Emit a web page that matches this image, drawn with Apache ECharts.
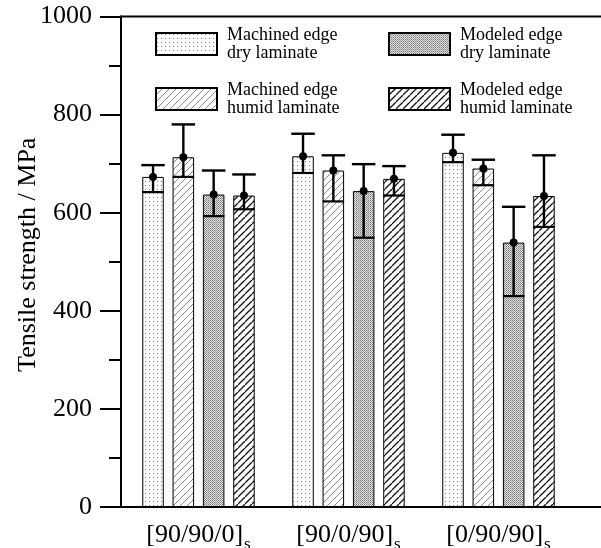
<!DOCTYPE html>
<html>
<head>
<meta charset="utf-8">
<script src="https://cdn.jsdelivr.net/npm/echarts@6/dist/echarts.min.js"></script>
<style>
html,body{margin:0;padding:0;background:#fff;}
#c{width:601px;height:548px;}
</style>
</head>
<body>
<div id="c"></div>
<script>
// ---- data ----
const categories = ['[90/90/0]', '[90/0/90]', '[0/90/90]'];
const seriesNames = ['Machined edge\ndry laminate', 'Machined edge\nhumid laminate', 'Modeled edge\ndry laminate', 'Modeled edge\nhumid laminate'];
const machinedDry = [673, 715, 722];
const machinedDryUpper = [697, 761, 759];
const machinedDryLower = [642, 681, 703];
const machinedHumid = [713, 686, 690];
const machinedHumidUpper = [780, 717, 708];
const machinedHumidLower = [673, 623, 656];
const modeledDry = [637, 644, 539];
const modeledDryUpper = [686, 699, 612];
const modeledDryLower = [593, 549, 430];
const modeledHumid = [635, 669, 634];
const modeledHumidUpper = [678, 695, 717];
const modeledHumidLower = [607, 635, 571];
const yTicks = [0, 200, 400, 600, 800, 1000];

const means = [machinedDry, machinedHumid, modeledDry, modeledHumid];
const uppers = [machinedDryUpper, machinedHumidUpper, modeledDryUpper, modeledHumidUpper];
const lowers = [machinedDryLower, machinedHumidLower, modeledDryLower, modeledHumidLower];

// ---- patterns ----
function makeCanvas(w, h, draw) {
  const cv = document.createElement('canvas');
  cv.width = w; cv.height = h;
  const ctx = cv.getContext('2d');
  ctx.fillStyle = '#fff';
  ctx.fillRect(0, 0, w, h);
  draw(ctx, w, h);
  return cv;
}
const sparseDots = makeCanvas(4, 4, (ctx) => {
  ctx.fillStyle = '#777';
  ctx.fillRect(1, 1, 1, 1);
});
const denseDots = makeCanvas(2, 2, (ctx) => {
  ctx.fillStyle = '#e4e4e4';
  ctx.fillRect(0, 0, 2, 2);
  ctx.fillStyle = '#777';
  ctx.fillRect(0, 0, 1, 1);
  ctx.fillStyle = '#999';
  ctx.fillRect(1, 1, 1, 1);
});
function hatch(size, color, width) {
  return makeCanvas(size, size, (ctx, w, h) => {
    ctx.strokeStyle = color;
    ctx.lineWidth = width;
    ctx.beginPath();
    ctx.moveTo(0, h); ctx.lineTo(w, 0);
    ctx.moveTo(-w, h); ctx.lineTo(0, 0);
    ctx.moveTo(w, 2 * h); ctx.lineTo(2 * w, h);
    ctx.stroke();
  });
}
const lightHatch = hatch(7, '#8a8a8a', 1);
const darkHatch = hatch(7, '#111', 1.3);
const fills = [sparseDots, lightHatch, denseDots, darkHatch];

const serif = 'Liberation Serif';
const barWidth = 21.5;
const gapRatio = 0.41;
const pitch = barWidth * (1 + gapRatio);

const chart = echarts.init(document.getElementById('c'), null, {renderer: 'canvas'});

const series = [];
for (let k = 0; k < 4; k++) {
  series.push({
    name: seriesNames[k],
    type: 'bar',
    barWidth: barWidth,
    barGap: (gapRatio * 100) + '%',
    data: means[k],
    itemStyle: {
      color: {image: fills[k], repeat: 'repeat'},
      borderColor: '#000',
      borderWidth: 1
    },
    emphasis: {disabled: true},
    z: 2
  });
}
for (let k = 0; k < 4; k++) {
  const off = (k - 1.5) * pitch;
  series.push({
    name: 'err' + k,
    type: 'custom',
    z: 5,
    encode: {x: 0, y: [1, 2, 3]},
    data: categories.map((c, i) => [i, means[k][i], uppers[k][i], lowers[k][i]]),
    renderItem: function (params, api) {
      const m = api.coord([api.value(0), api.value(1)]);
      const u = api.coord([api.value(0), api.value(2)]);
      const l = api.coord([api.value(0), api.value(3)]);
      const x = m[0] + off;
      const hw = barWidth / 2;
      return {
        type: 'group',
        children: [
          {type: 'line', shape: {x1: x, y1: u[1], x2: x, y2: l[1]}, style: {stroke: '#000', lineWidth: 2.4}},
          {type: 'line', shape: {x1: x - hw - 1, y1: u[1], x2: x + hw + 1, y2: u[1]}, style: {stroke: '#000', lineWidth: 2.4}},
          {type: 'line', shape: {x1: x - hw, y1: l[1], x2: x + hw, y2: l[1]}, style: {stroke: '#000', lineWidth: 2.2}},
          {type: 'circle', shape: {cx: x, cy: m[1], r: 4}, style: {fill: '#000'}}
        ]
      };
    }
  });
}

const legendText = {fontFamily: serif, fontSize: 18, lineHeight: 18, color: '#000', padding: [0, 0, 0, 5]};

chart.setOption({
  animation: false,
  backgroundColor: '#fff',
  grid: {left: 123.5, right: 27.5, top: 16.5, bottom: 41, containLabel: false, outerBoundsMode: 'none'},
  legend: [
    {
      data: [seriesNames[0], seriesNames[1]],
      left: 150, top: 21, orient: 'vertical',
      itemWidth: 61, itemHeight: 22, itemGap: 19,
      textStyle: legendText, selectedMode: false, icon: 'rect'
    },
    {
      data: [seriesNames[2], seriesNames[3]],
      left: 383, top: 21, orient: 'vertical',
      itemWidth: 61, itemHeight: 22, itemGap: 19,
      textStyle: legendText, selectedMode: false, icon: 'rect'
    }
  ],
  xAxis: {
    type: 'category',
    data: categories,
    axisLine: {show: false},
    axisTick: {show: false},
    axisLabel: {
      margin: 11,
      formatter: (v) => '{m|' + v + '}{s|s}',
      rich: {
        m: {fontFamily: serif, fontSize: 26, color: '#000', lineHeight: 26},
        s: {fontFamily: serif, fontSize: 17, color: '#000', verticalAlign: 'top', padding: [18, 0, 0, 1]}
      }
    }
  },
  yAxis: {
    type: 'value',
    min: 0, max: 1000, interval: 200,
    offset: 2.5,
    name: 'Tensile strength / MPa',
    nameLocation: 'middle',
    nameRotate: 90,
    nameGap: 80,
    nameMoveOverlap: false,
    nameTextStyle: {fontFamily: serif, fontSize: 26, color: '#000', padding: [0, 0, 0, 14]},
    axisLine: {show: true, lineStyle: {color: '#000', width: 2}},
    axisTick: {show: true, inside: false, length: 21, lineStyle: {color: '#000', width: 2}},
    minorTick: {show: true, splitNumber: 2, length: 12, lineStyle: {color: '#000', width: 2}},
    axisLabel: {fontFamily: serif, fontSize: 26, color: '#000', margin: 29,
      formatter: (v) => yTicks.indexOf(v) >= 0 ? String(v) : ''},
    splitLine: {show: false}
  },
  series: series
});

// frame lines (top border and full-width bottom axis line) tied to the y scale
const yBottom = chart.convertToPixel({yAxisIndex: 0}, 0);
const yTop = chart.convertToPixel({yAxisIndex: 0}, 1000);
const axisX = 121;
chart.setOption({
  graphic: [
    {type: 'line', shape: {x1: axisX - 1, y1: yBottom, x2: 601, y2: yBottom}, style: {stroke: '#000', lineWidth: 2}, z: 10},
    {type: 'line', shape: {x1: axisX - 1, y1: yTop, x2: 601, y2: yTop}, style: {stroke: '#000', lineWidth: 2}, z: 10}
  ]
});
</script>
</body>
</html>
